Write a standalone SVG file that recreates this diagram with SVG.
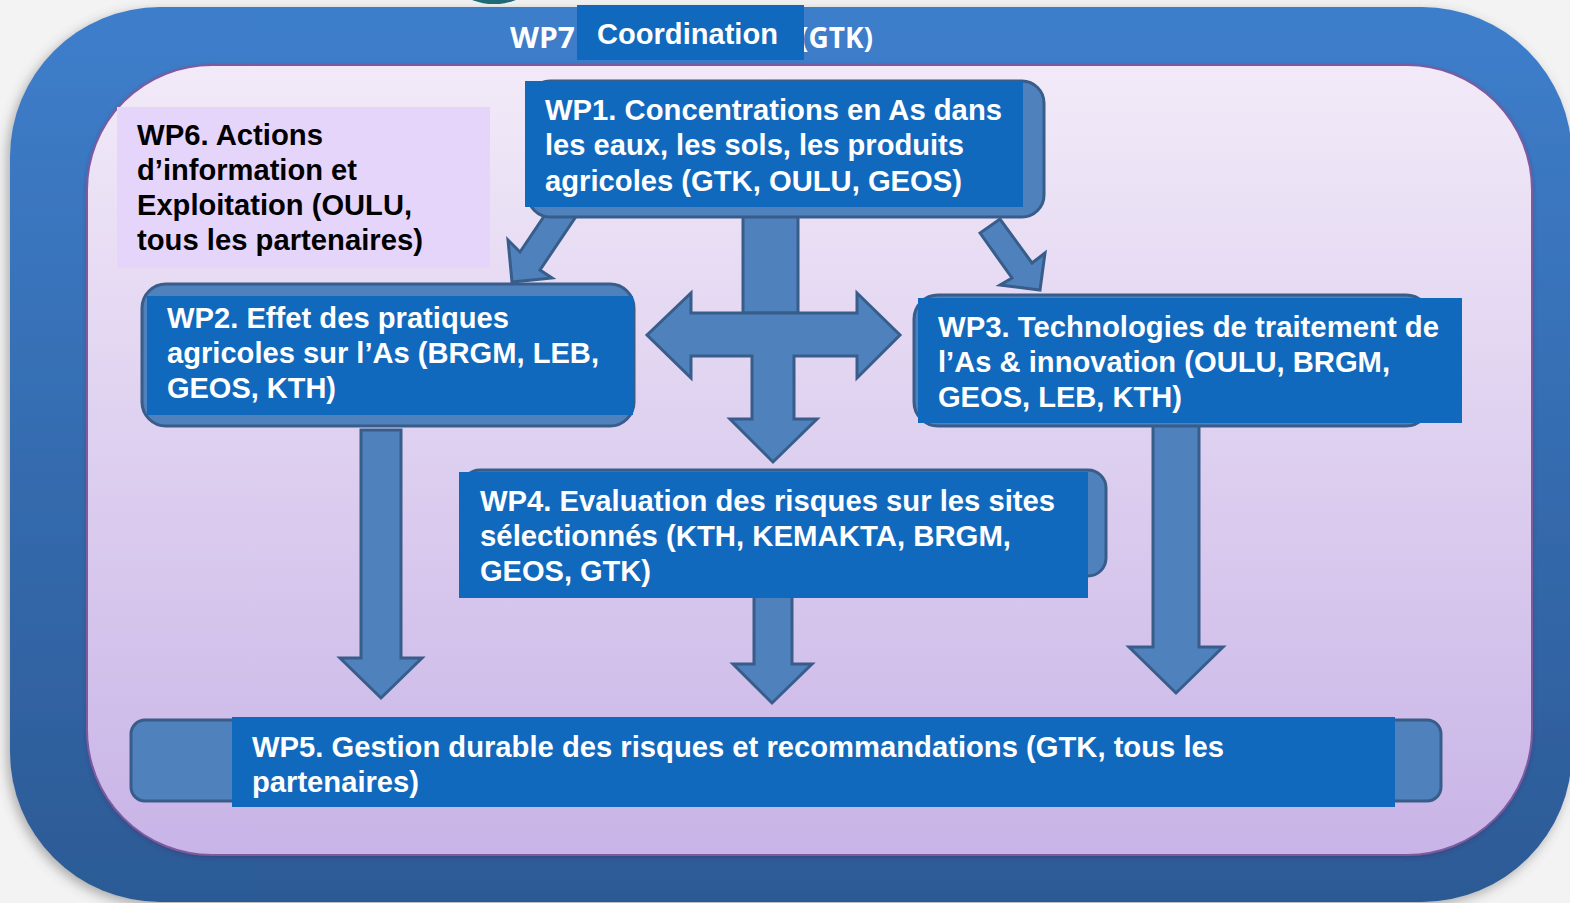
<svg xmlns="http://www.w3.org/2000/svg" width="1570" height="903" viewBox="0 0 1570 903">
  <defs>
    <linearGradient id="frameGrad" x1="0" y1="0" x2="0" y2="1">
      <stop offset="0" stop-color="#3E7ECB"/>
      <stop offset="1" stop-color="#2C5A95"/>
    </linearGradient>
    <linearGradient id="panelGrad" x1="0" y1="0" x2="0" y2="1">
      <stop offset="0" stop-color="#F2EAF8"/>
      <stop offset="1" stop-color="#C8B4E7"/>
    </linearGradient>
    <filter id="shadow" x="-5%" y="-5%" width="110%" height="110%">
      <feDropShadow dx="-3" dy="4" stdDeviation="6" flood-color="#555" flood-opacity="0.45"/>
    </filter>
    <filter id="softShadow" x="-5%" y="-5%" width="110%" height="110%">
      <feDropShadow dx="0" dy="2" stdDeviation="2" flood-color="#3A2A5A" flood-opacity="0.35"/>
    </filter>
    <style>
      .arrow { fill: #4F81BD; stroke: #385D8A; stroke-width: 3; stroke-linejoin: miter; }
      .back { fill: #4F81BD; stroke: #385D8A; stroke-width: 3; }
      .front { fill: #1169BE; }
      .t { font-family: "Liberation Sans", Arial, sans-serif; font-weight: bold; font-size: 29px; fill: #FFFFFF; }
      .dark { fill: #000000; }
      .title { font-family: "Open Sans", "Liberation Sans", sans-serif; font-weight: bold; font-size: 28px; fill: #FFFFFF; }
    </style>
  </defs>

  <!-- page background -->
  <rect x="0" y="0" width="1570" height="903" fill="#F3F3F3"/>
  <ellipse cx="494" cy="-7" rx="28" ry="11" fill="#1E6B78"/>

  <!-- outer coordination frame and inner panel -->
  <g id="frame">
    <rect x="10" y="7" width="1562" height="895" rx="150" ry="150" fill="url(#frameGrad)" filter="url(#shadow)"/>
    <rect x="87" y="65" width="1445" height="790" rx="125" ry="125" fill="url(#panelGrad)" stroke="#7E5A9E" stroke-width="2" filter="url(#softShadow)"/>
  </g>

  <!-- WP7 header -->
  <g id="wp7">
    <text class="title" x="510" y="48" textLength="65" lengthAdjust="spacingAndGlyphs">WP7</text>
    <text class="title" x="873" y="48" text-anchor="end">(GTK)</text>
    <rect class="front" x="577" y="5" width="227" height="55"/>
    <text class="t" x="597" y="44" textLength="181" lengthAdjust="spacingAndGlyphs">Coordination</text>
  </g>

  <!-- connectors -->
  <g id="connectors">
    <!-- WP1 to WP2 -->
    <polygon class="arrow" points="559,194 520,252 508,240 512,282 552,278 540,270 579,212"/>
    <!-- WP1 to WP3 -->
    <polygon class="arrow" points="980,233 1012,278 1000,285 1040,290 1045,253 1032,263 1000,219"/>
    <!-- WP1 trunk -->
    <rect class="arrow" x="743" y="205" width="55" height="108"/>
    <!-- cross: WP2 / WP3 / WP4 -->
    <polygon class="arrow" points="647,335 691,293 691,313 857,313 857,293 900,335 857,378 857,356 794,356 794,419 817,419 773,462 730,419 752,419 752,356 691,356 691,378"/>
    <!-- WP2 to WP5 -->
    <polygon class="arrow" points="361,430 401,430 401,658 422,658 381,698 340,658 361,658"/>
    <!-- WP4 to WP5 -->
    <polygon class="arrow" points="754,590 792,590 792,664 812,664 772,703 733,664 754,664"/>
    <!-- WP3 to WP5 -->
    <polygon class="arrow" points="1153,420 1199,420 1199,647 1223,647 1176,693 1129,647 1153,647"/>
  </g>

  <g id="wp6">
    <rect x="117" y="107" width="373" height="161" fill="#E6D5FA"/>
    <text class="t dark" x="137" y="145" textLength="186" lengthAdjust="spacingAndGlyphs">WP6. Actions</text>
    <text class="t dark" x="137" y="180" textLength="220" lengthAdjust="spacingAndGlyphs">d’information et</text>
    <text class="t dark" x="137" y="215" textLength="275" lengthAdjust="spacingAndGlyphs">Exploitation (OULU,</text>
    <text class="t dark" x="137" y="250" textLength="286" lengthAdjust="spacingAndGlyphs">tous les partenaires)</text>
  </g>

  <g id="wp1">
    <rect class="back" x="528" y="81" width="516" height="136" rx="22" ry="22"/>
    <rect class="front" x="525" y="81" width="498" height="126"/>
    <text class="t" x="545" y="120" textLength="457" lengthAdjust="spacingAndGlyphs">WP1. Concentrations en As dans</text>
    <text class="t" x="545" y="155" textLength="419" lengthAdjust="spacingAndGlyphs">les eaux, les sols, les produits</text>
    <text class="t" x="545" y="191" textLength="417" lengthAdjust="spacingAndGlyphs">agricoles (GTK, OULU, GEOS)</text>
  </g>

  <g id="wp2">
    <rect class="back" x="142" y="284" width="492" height="142" rx="24" ry="24"/>
    <rect class="front" x="147" y="296" width="486" height="119"/>
    <text class="t" x="167" y="328" textLength="342" lengthAdjust="spacingAndGlyphs">WP2. Effet des pratiques</text>
    <text class="t" x="167" y="363" textLength="432" lengthAdjust="spacingAndGlyphs">agricoles sur l’As (BRGM, LEB,</text>
    <text class="t" x="167" y="398" textLength="169" lengthAdjust="spacingAndGlyphs">GEOS, KTH)</text>
  </g>

  <g id="wp3">
    <rect class="back" x="914" y="295" width="516" height="131" rx="24" ry="24"/>
    <rect class="front" x="918" y="298" width="544" height="125"/>
    <text class="t" x="938" y="337" textLength="501" lengthAdjust="spacingAndGlyphs">WP3. Technologies de traitement de</text>
    <text class="t" x="938" y="372" textLength="452" lengthAdjust="spacingAndGlyphs">l’As &amp; innovation (OULU, BRGM,</text>
    <text class="t" x="938" y="407" textLength="244" lengthAdjust="spacingAndGlyphs">GEOS, LEB, KTH)</text>
  </g>

  <g id="wp4">
    <rect class="back" x="462" y="470" width="644" height="106" rx="18" ry="18"/>
    <rect class="front" x="459" y="472" width="629" height="126"/>
    <text class="t" x="480" y="511" textLength="575" lengthAdjust="spacingAndGlyphs">WP4. Evaluation des risques sur les sites</text>
    <text class="t" x="480" y="546" textLength="531" lengthAdjust="spacingAndGlyphs">sélectionnés (KTH, KEMAKTA, BRGM,</text>
    <text class="t" x="480" y="581" textLength="171" lengthAdjust="spacingAndGlyphs">GEOS, GTK)</text>
  </g>

  <g id="wp5">
    <rect class="back" x="131" y="720" width="1310" height="81" rx="14" ry="14"/>
    <rect class="front" x="232" y="717" width="1163" height="90"/>
    <text class="t" x="252" y="757" textLength="972" lengthAdjust="spacingAndGlyphs">WP5. Gestion durable des risques et recommandations (GTK, tous les</text>
    <text class="t" x="252" y="792" textLength="167" lengthAdjust="spacingAndGlyphs">partenaires)</text>
  </g>
</svg>
